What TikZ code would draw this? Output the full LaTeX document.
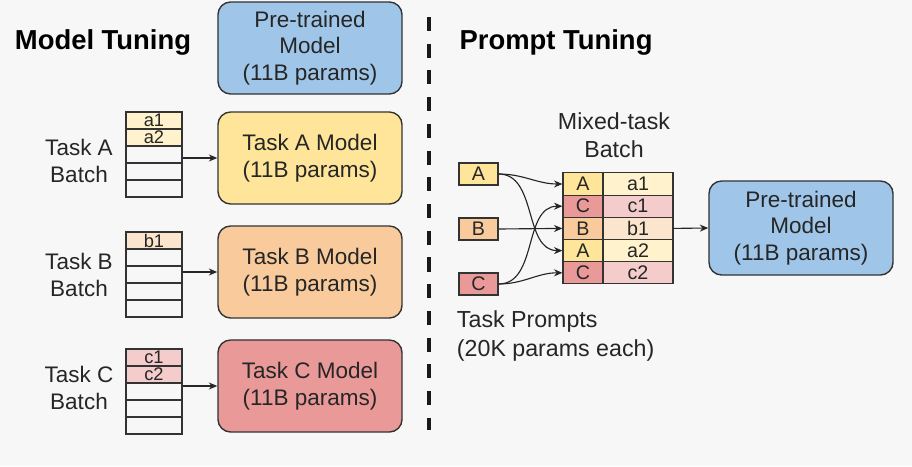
\documentclass[tikz,border=0pt]{standalone}
\usepackage{fontspec}
\setmainfont{Liberation Sans}
\usetikzlibrary{arrows.meta}
\definecolor{ptblue}{HTML}{9FC5E8}
\definecolor{tayellow}{HTML}{FFE599}
\definecolor{tborange}{HTML}{F9CB9C}
\definecolor{tcred}{HTML}{EA9999}
\definecolor{lyellow}{HTML}{FFF2CC}
\definecolor{lorange}{HTML}{FCE5CD}
\definecolor{lred}{HTML}{F4CCCC}
\tikzstyle{model}=[rectangle, rounded corners=9pt, draw=black!80, line width=1pt, minimum width=4.6cm, minimum height=2.3cm, align=center, text=black!85, font=\fontsize{16}{19}\selectfont]
\tikzstyle{cell}=[rectangle, draw=black!80, line width=0.8pt, minimum width=1.4cm, minimum height=0.425cm, inner sep=0pt, text=black!85, font=\fontsize{13}{13}\selectfont]
\tikzstyle{prompt}=[rectangle, draw=black!80, line width=0.8pt, minimum width=0.975cm, minimum height=0.55cm, inner sep=0pt, text=black!85, font=\fontsize{14}{14}\selectfont]
\tikzstyle{tag}=[prompt, minimum width=1cm, minimum height=0.555cm]
\tikzstyle{val}=[prompt, minimum width=1.75cm, minimum height=0.555cm]
\tikzstyle{lbl}=[align=center, text=black!85, font=\fontsize{16}{19}\selectfont]
\tikzstyle{biglbl}=[text=black!85, font=\fontsize{16.5}{20}\selectfont]
\tikzstyle{title}=[text=black, font=\fontsize{19.5}{23}\selectfont\bfseries]
\tikzstyle{flow}=[-{Stealth[length=6pt, width=5pt]}, line width=0.8pt, black!85]

\begin{document}
\begin{tikzpicture}[x=0.025cm, y=-0.025cm]
\fill[black!3] (0,0) rectangle (912,466);
\useasboundingbox (0,0) rectangle (912,466);

% model tuning
\node[title] (mt) at (103,42) {Model Tuning};
\node[model, fill=ptblue] (pre) at (310,48) {Pre-trained\\Model\\(11B params)};
\node[model, fill=tayellow] (modelA) at (310,158) {Task A Model\\(11B params)};
\node[model, fill=tborange] (modelB) at (310,272) {Task B Model\\(11B params)};
\node[model, fill=tcred] (modelC) at (310,386) {Task C Model\\(11B params)};

\node[lbl] (labA) at (79,161) {Task A\\Batch};
\node[lbl] (labB) at (79,275) {Task B\\Batch};
\node[lbl] (labC) at (79,388) {Task C\\Batch};

\node[cell, fill=lyellow] (a1) at (154,120.5) {a1};
\node[cell, fill=lyellow] (a2) at (154,137.5) {a2};
\foreach \i in {3,4,5}
  \node[cell] (a\i) at (154,{103.5+17*\i}) {};
\node[cell, fill=lorange] (b1) at (154,240.5) {b1};
\foreach \i in {2,3,4,5}
  \node[cell] (b\i) at (154,{223.5+17*\i}) {};
\node[cell, fill=lred] (c1) at (154,357.5) {c1};
\node[cell, fill=lred] (c2) at (154,374.5) {c2};
\foreach \i in {3,4,5}
  \node[cell] (c\i) at (154,{340.5+17*\i}) {};

\draw[flow] (a3.east |- modelA.west) -- (modelA.west);
\draw[flow] (b3.east |- modelB.west) -- (modelB.west);
\draw[flow] (c3.east |- modelC.west) -- (modelC.west);

% divider
\coordinate (top) at (429,17);
\coordinate (bot) at (429,430);
\draw[line width=2.8pt, dash pattern=on 10pt off 9pt, black!90] (top) -- (bot);

% prompt tuning
\node[title] (pt) at (556,42) {Prompt Tuning};
\node[biglbl, align=center] (mix) at (614,135) {Mixed-task\\Batch};
\node[biglbl, align=left, anchor=west] (tp) at (452,336) {Task Prompts\\(20K params each)};

\node[prompt, fill=tayellow] (pA) at (478.5,174) {A};
\node[prompt, fill=tborange] (pB) at (478.5,229) {B};
\node[prompt, fill=tcred] (pC) at (478.5,284) {C};

\node[tag, fill=tayellow] (m1) at (583,184) {A};
\node[val, fill=lyellow] (v1) at (638,184) {a1};
\node[tag, fill=tcred] (m2) at (583,206.2) {C};
\node[val, fill=lred] (v2) at (638,206.2) {c1};
\node[tag, fill=tborange] (m3) at (583,228.4) {B};
\node[val, fill=lorange] (v3) at (638,228.4) {b1};
\node[tag, fill=tayellow] (m4) at (583,250.6) {A};
\node[val, fill=lyellow] (v4) at (638,250.6) {a2};
\node[tag, fill=tcred] (m5) at (583,272.8) {C};
\node[val, fill=lred] (v5) at (638,272.8) {c2};

\node[model, fill=ptblue, minimum height=2.35cm] (pre2) at (801,228) {Pre-trained\\Model\\(11B params)};

\draw[flow] (pA.east) to[out=0, in=180] (m1.west);
\draw[flow] (pA.east) to[out=0, in=180] (m4.west);
\draw[flow] (pB.east) -- (m3.west);
\draw[flow] (pC.east) to[out=0, in=180] (m2.west);
\draw[flow] (pC.east) to[out=0, in=180] (m5.west);
\draw[flow] (v3.east) -- (pre2.west);
\end{tikzpicture}
\end{document}
